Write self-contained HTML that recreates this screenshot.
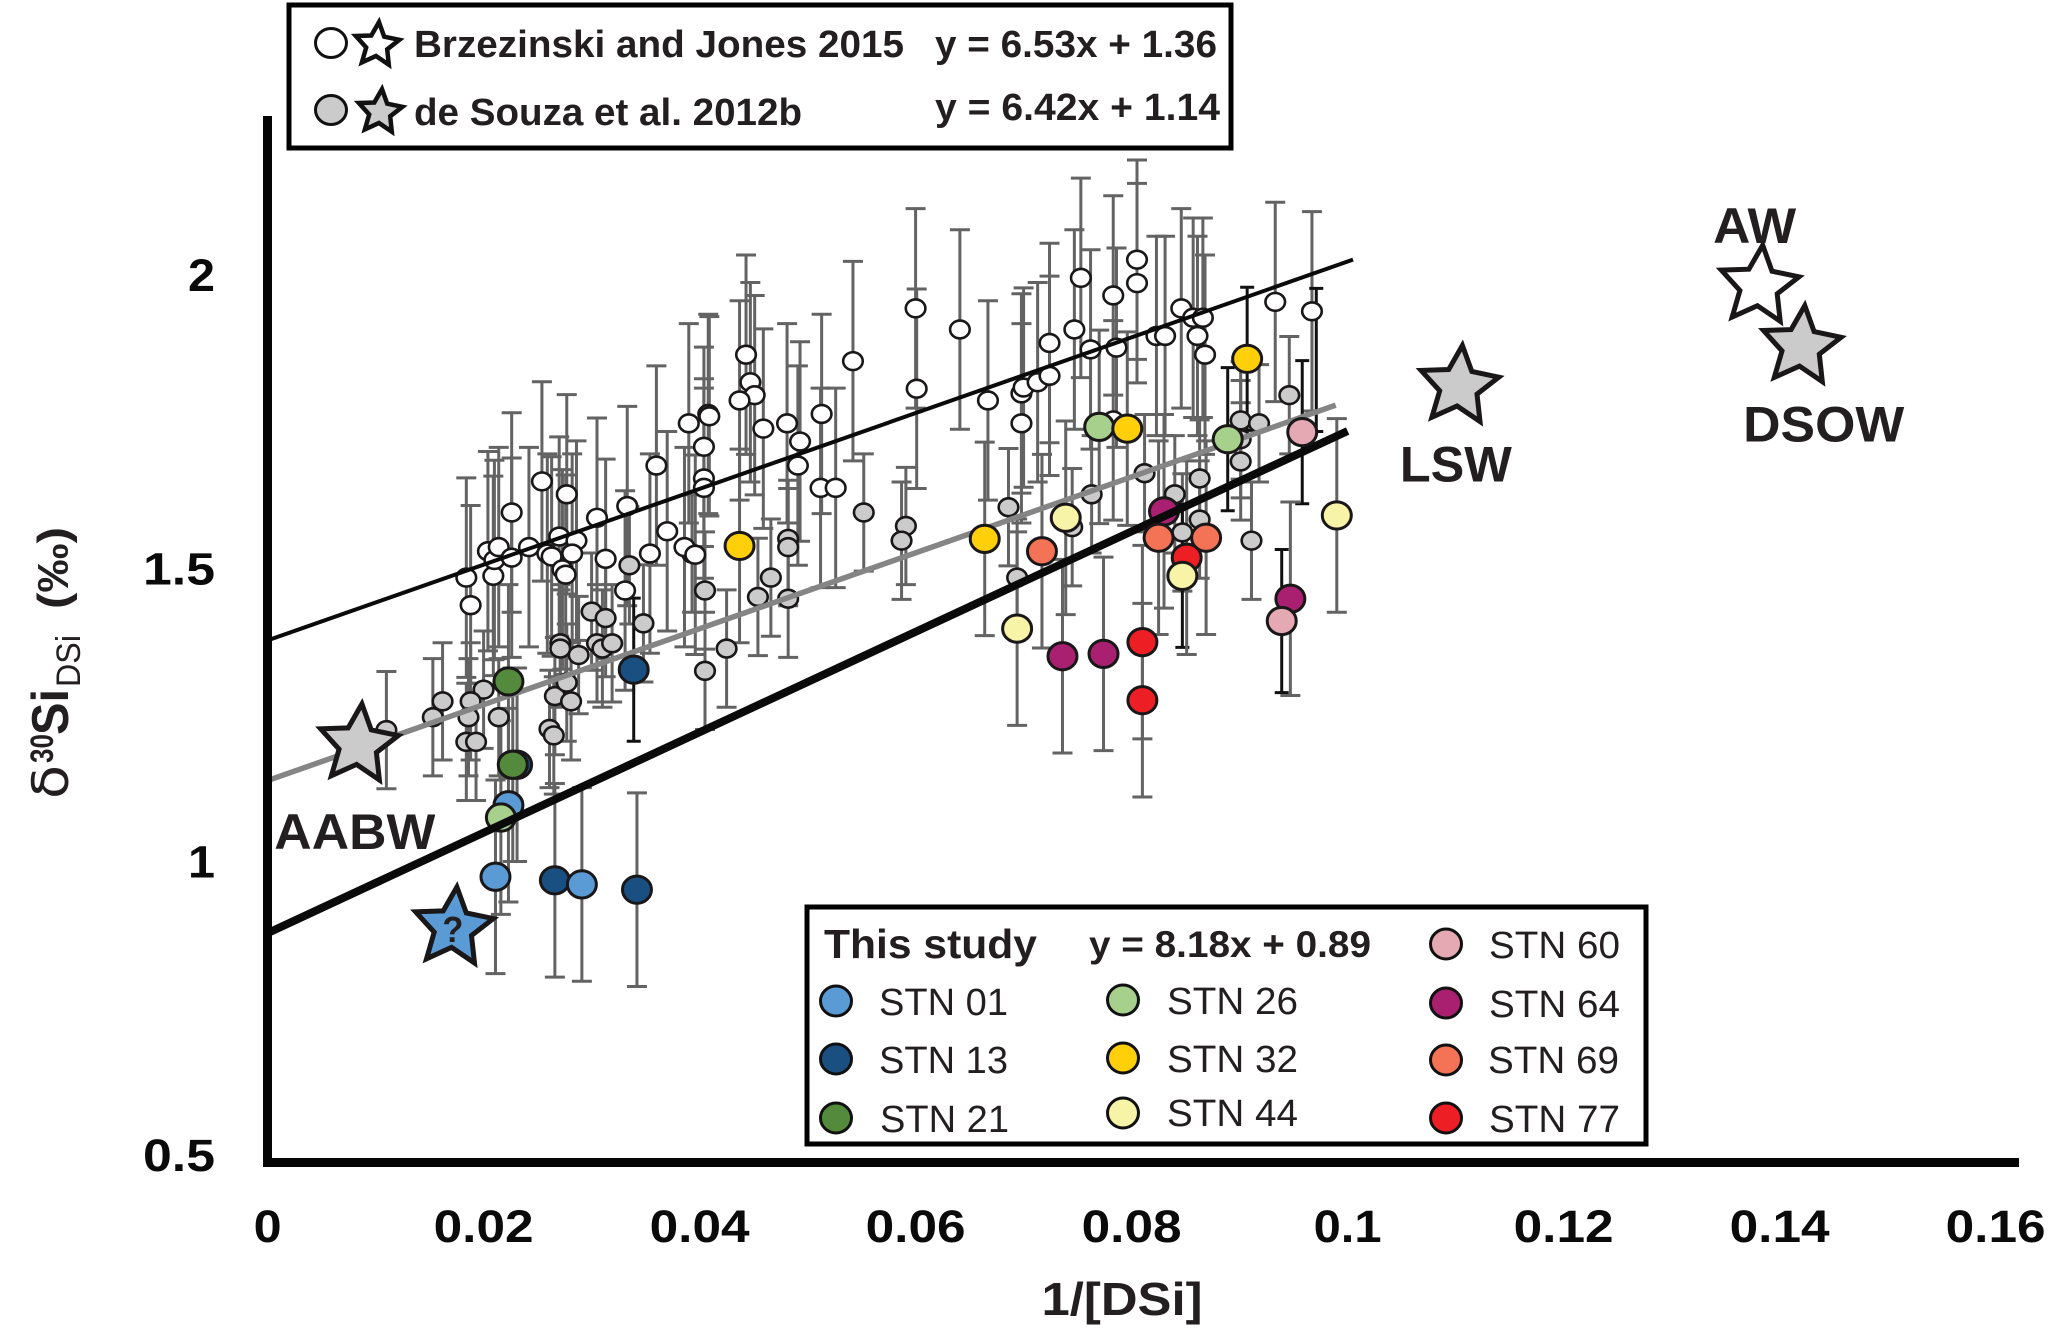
<!DOCTYPE html>
<html lang="en">
<head>
<meta charset="utf-8">
<title>Silicon isotope chart</title>
<style>
html,body{margin:0;padding:0;background:#fff}
svg{display:block}
text{font-family:"Liberation Sans",Arial,sans-serif;fill:#231f20}
.b{font-weight:bold}
</style>
</head>
<body>
<svg id="chart" xmlns="http://www.w3.org/2000/svg" width="2067" height="1341" viewBox="0 0 2067 1341">
  <rect width="2067" height="1341" fill="#fff"/>
  <g id="bars"></g>
  <g id="marks"></g>
  <g id="axes"></g>

  <g transform="translate(68,799) rotate(-90)">
    <text x="0" y="0" font-size="50" textLength="34" lengthAdjust="spacingAndGlyphs" style="font-family:'DejaVu Sans',sans-serif">δ</text>
    <text x="36" y="-15" font-size="32" class="b" textLength="29" lengthAdjust="spacingAndGlyphs">30</text>
    <text x="64" y="0" font-size="52" class="b" textLength="46" lengthAdjust="spacingAndGlyphs">Si</text>
    <text x="112" y="12" font-size="34" textLength="52" lengthAdjust="spacingAndGlyphs">DSi</text>
    <text x="190" y="0" font-size="44" class="b" textLength="82" lengthAdjust="spacingAndGlyphs">(‰)</text>
  </g>
  <text x="1122" y="1315" font-size="46" class="b" text-anchor="middle" textLength="161" lengthAdjust="spacingAndGlyphs">1/[DSi]</text>

  <g>
    <rect x="289" y="5" width="942" height="143" fill="#fff" stroke="#000" stroke-width="5"/>
    <ellipse cx="331" cy="43" rx="15.5" ry="14.5" fill="#fff" stroke="#111" stroke-width="3"/>
    <ellipse cx="331" cy="110" rx="15.5" ry="14.5" fill="#cccbcc" stroke="#111" stroke-width="3"/>
    <polygon id="legStarW" fill="#fff" stroke="#111" stroke-width="4.5"/>
    <polygon id="legStarG" fill="#cccbcc" stroke="#111" stroke-width="4.5"/>
    <text x="414" y="57" font-size="38" class="b" textLength="490" lengthAdjust="spacingAndGlyphs">Brzezinski and Jones 2015</text>
    <text x="935" y="57" font-size="38" class="b" textLength="282" lengthAdjust="spacingAndGlyphs">y = 6.53x + 1.36</text>
    <text x="414" y="125" font-size="38" class="b" textLength="388" lengthAdjust="spacingAndGlyphs">de Souza et al. 2012b</text>
    <text x="935" y="120" font-size="38" class="b" textLength="285" lengthAdjust="spacingAndGlyphs">y = 6.42x + 1.14</text>
  </g>

  <g>
    <rect x="807" y="907" width="839" height="237" fill="#fff" stroke="#000" stroke-width="5"/>
    <text x="824" y="958" font-size="41" class="b" textLength="213" lengthAdjust="spacingAndGlyphs">This study</text>
    <text x="1089" y="957" font-size="37" class="b" textLength="282" lengthAdjust="spacingAndGlyphs">y = 8.18x + 0.89</text>
    <ellipse cx="836" cy="1001" rx="15.5" ry="15" fill="#5b9bd5" stroke="#111" stroke-width="3"/>
    <text x="879" y="1015" font-size="38" textLength="129" lengthAdjust="spacingAndGlyphs">STN 01</text>
    <ellipse cx="836" cy="1059" rx="15.5" ry="15" fill="#1a5081" stroke="#111" stroke-width="3"/>
    <text x="879" y="1073" font-size="38" textLength="129" lengthAdjust="spacingAndGlyphs">STN 13</text>
    <ellipse cx="836" cy="1118" rx="15.5" ry="15" fill="#548a3c" stroke="#111" stroke-width="3"/>
    <text x="880" y="1132" font-size="38" textLength="129" lengthAdjust="spacingAndGlyphs">STN 21</text>
    <ellipse cx="1123" cy="1000" rx="15.5" ry="15" fill="#a8d08d" stroke="#111" stroke-width="3"/>
    <text x="1167" y="1014" font-size="38" textLength="131" lengthAdjust="spacingAndGlyphs">STN 26</text>
    <ellipse cx="1123" cy="1058" rx="15.5" ry="15" fill="#ffd00a" stroke="#111" stroke-width="3"/>
    <text x="1167" y="1072" font-size="38" textLength="131" lengthAdjust="spacingAndGlyphs">STN 32</text>
    <ellipse cx="1123" cy="1113" rx="15.5" ry="15" fill="#f7f4a8" stroke="#111" stroke-width="3"/>
    <text x="1167" y="1126" font-size="38" textLength="131" lengthAdjust="spacingAndGlyphs">STN 44</text>
    <ellipse cx="1446" cy="944" rx="15.5" ry="15" fill="#e4a9b2" stroke="#111" stroke-width="3"/>
    <text x="1489" y="958" font-size="38" textLength="131" lengthAdjust="spacingAndGlyphs">STN 60</text>
    <ellipse cx="1446" cy="1003" rx="15.5" ry="15" fill="#a8206f" stroke="#111" stroke-width="3"/>
    <text x="1489" y="1017" font-size="38" textLength="131" lengthAdjust="spacingAndGlyphs">STN 64</text>
    <ellipse cx="1446" cy="1060" rx="15.5" ry="15" fill="#f47356" stroke="#111" stroke-width="3"/>
    <text x="1488" y="1073" font-size="38" textLength="131" lengthAdjust="spacingAndGlyphs">STN 69</text>
    <ellipse cx="1446" cy="1118" rx="15.5" ry="15" fill="#ed1f24" stroke="#111" stroke-width="3"/>
    <text x="1489" y="1132" font-size="38" textLength="131" lengthAdjust="spacingAndGlyphs">STN 77</text>
  </g>
</svg>
<script>
const xTickValues = [0, 0.02, 0.04, 0.06, 0.08, 0.1, 0.12, 0.14, 0.16];
const xTickLabels = ["0", "0.02", "0.04", "0.06", "0.08", "0.1", "0.12", "0.14", "0.16"];
const yTickValues = [0.5, 1, 1.5, 2];
const yTickLabels = ["0.5", "1", "1.5", "2"];

const whiteX = [.0184,.0188,.0204,.0209,.0210,.0214,.0226,.0226,.0242,.0254,.0259,.0263,.0270,.0277,.0273,.0276,.0286,.0282,.0305,.0313,.0333,.0331,.0354,.0360,.0370,.0386,.0390,.0396,.0404,.0404,.0408,.0409,.0404,.0443,.0447,.0451,.0437,.0459,.0481,.0493,.0491,.0513,.0512,.0526,.0542,.0600,.0601,.0641,.0667,.0698,.0698,.0700,.0713,.0724,.0724,.0747,.0753,.0762,.0783,.0786,.0783,.0805,.0805,.0823,.0831,.0846,.0857,.0866,.0861,.0868,.0933,.0967];
const whiteY = [1.486,1.439,1.531,1.489,1.516,1.538,1.597,1.52,1.538,1.65,1.527,1.522,1.556,1.628,1.50,1.491,1.549,1.527,1.588,1.518,1.608,1.464,1.527,1.677,1.565,1.538,1.749,1.525,1.655,1.709,1.765,1.761,1.639,1.866,1.819,1.797,1.788,1.74,1.749,1.718,1.677,1.765,1.639,1.639,1.855,1.945,1.808,1.909,1.788,1.749,1.80,1.81,1.819,1.83,1.886,1.909,1.997,1.875,1.967,1.878,1.754,2.028,1.988,1.898,1.898,1.945,1.929,1.929,1.898,1.866,1.956,1.94];
const whiteErr = 0.17;

const grayX = [.0110,.0162,.0153,.0200,.0188,.0186,.0184,.0193,.0214,.0271,.0271,.0288,.0305,.0310,.0319,.0300,.0313,.0348,.0266,.0277,.0281,.0261,.0265,.0425,.0405,.0405,.0454,.0466,.0482,.0482,.0482,.0335,.0393,.0552,.0591,.0587,.0686,.0694,.0763,.0745,.0812,.0840,.0863,.0863,.0847,.0901,.0918,.0901,.0901,.0946,.0911];
const grayY = [1.226,1.275,1.248,1.295,1.275,1.248,1.206,1.206,1.248,1.374,1.365,1.354,1.374,1.365,1.374,1.428,1.417,1.408,1.284,1.307,1.275,1.228,1.217,1.365,1.327,1.464,1.453,1.486,1.45,1.552,1.538,1.507,1.527,1.597,1.574,1.549,1.606,1.486,1.628,1.572,1.664,1.628,1.655,1.585,1.563,1.754,1.749,1.684,1.722,1.797,1.549];
const grayErr = 0.1;

const stationNames = ["stn-01","stn-13","stn-21","stn-26","stn-32","stn-44","stn-60","stn-64","stn-69","stn-77"];
const stn01X = [.0211,.0223,.0291];
const stn01Y = [.976,1.098,.963];
const stn01Err = [.165,.165,.165];
const stn13X = [.0266,.0342,.0339,.0231];
const stn13Y = [.970,.954,1.329,1.167];
const stn13Err = [.165,.165,.122,.165];
const stn21X = [.0223,.0227];
const stn21Y = [1.309,1.167];
const stn21Err = [.165,.165];
const stn26X = [.0216,.0770,.0889];
const stn26Y = [1.077,1.743,1.722];
const stn26Err = [.165,.165,.122];
const stn32X = [.0437,.0664,.0796,.0907];
const stn32Y = [1.540,1.552,1.740,1.859];
const stn32Err = [.165,.165,.165,.122];
const stn44X = [.0694,.0739,.0847,.0990];
const stn44Y = [1.399,1.588,1.489,1.592];
const stn44Err = [.165,.165,.122,.165];
const stn60X = [.0939,.0958];
const stn60Y = [1.412,1.734];
const stn60Err = [.122,.122];
const stn64X = [.0736,.0774,.0830,.0947];
const stn64Y = [1.352,1.356,1.599,1.450];
const stn64Err = [.165,.165,.165,.165];
const stn69X = [.0717,.0825,.0869];
const stn69Y = [1.531,1.554,1.554];
const stn69Err = [.165,.165,.165];
const stn77X = [.0810,.0810,.0851];
const stn77Y = [1.376,1.277,1.520];
const stn77Err = [.165,.165,.165];
const hiddenBarX = [.0971];
const hiddenBarY = [1.857];
const hiddenBarErr = [.122];

const fitLineX0 = [0, 0, 0];
const fitLineY0 = [1.379, 1.14, 0.88];
const fitLineX1 = [.1005, .0989, .1];
const fitLineY1 = [2.028, 1.78, 1.736];

const waterMassNames = ["AABW", "?", "LSW", "AW", "DSOW"];
const waterMassX = [.0084, .0172, .1103, .1381, .1420];
const waterMassY = [1.201, .889, 1.812, 1.983, 1.880];

const SVGNS = "http://www.w3.org/2000/svg";
const X = v => 267.6 + v * 10800;
const Y = v => 1156 - (v - 0.5) * 586.6;
const barsG = document.getElementById("bars");
const marksG = document.getElementById("marks");
const axesG = document.getElementById("axes");

function mk(tag, attrs, parent) {
  const el = document.createElementNS(SVGNS, tag);
  for (const k in attrs) el.setAttribute(k, attrs[k]);
  parent.appendChild(el);
  return el;
}

function drawBar(vx, vy, err, color, width, capW) {
  const cx = X(vx), top = Y(vy + err), bot = Y(vy - err);
  const g = mk("path", {
    d: "M" + cx + " " + top + "V" + bot + "M" + (cx - capW) + " " + top + "H" + (cx + capW) + "M" + (cx - capW) + " " + bot + "H" + (cx + capW),
    fill: "none", stroke: color, "stroke-width": width
  }, barsG);
  
  
}

function drawDot(vx, vy, rx, ry, fill, sw) {
  const c = mk("ellipse", {
    cx: X(vx), cy: Y(vy), rx: rx, ry: ry, fill: fill, stroke: "#1a1718", "stroke-width": sw
  }, marksG);
  
  
}

function drawFit(i, color, width) {
  const l = mk("line", {
    x1: X(fitLineX0[i]), y1: Y(fitLineY0[i]), x2: X(fitLineX1[i]), y2: Y(fitLineY1[i]),
    stroke: color, "stroke-width": width
  }, marksG);
  
  
}

function starPoints(cx, cy, R, rot) {
  const pts = [];
  for (let i = 0; i < 10; i++) {
    const r = i % 2 ? R * 0.48 : R;
    const a = (-90 + rot + i * 36) * Math.PI / 180;
    pts.push((cx + r * Math.cos(a)).toFixed(1) + "," + (cy + r * Math.sin(a)).toFixed(1));
  }
  return pts.join(" ");
}

function drawStation(xs, ys, errs, fill) {
  xs.forEach((vx, i) => drawDot(vx, ys[i], 14.5, 13.6, fill, 3));
}

function drawStationBars(xs, ys, errs) {
  xs.forEach((vx, i) => {
    const dark = errs[i] < 0.13;
    drawBar(vx, ys[i], errs[i], dark ? "#111" : "#636363", 3, dark ? 7 : 10);
  });
}

grayX.forEach((vx, i) => drawBar(vx, grayY[i], grayErr, "#636363", 3, 10));
whiteX.forEach((vx, i) => drawBar(vx, whiteY[i], whiteErr, "#636363", 3, 10));
drawStationBars(stn01X, stn01Y, stn01Err);
drawStationBars(stn13X, stn13Y, stn13Err);
drawStationBars(stn21X, stn21Y, stn21Err);
drawStationBars(stn26X, stn26Y, stn26Err);
drawStationBars(stn32X, stn32Y, stn32Err);
drawStationBars(stn44X, stn44Y, stn44Err);
drawStationBars(stn60X, stn60Y, stn60Err);
drawStationBars(stn64X, stn64Y, stn64Err);
drawStationBars(stn69X, stn69Y, stn69Err);
drawStationBars(stn77X, stn77Y, stn77Err);
drawStationBars(hiddenBarX, hiddenBarY, hiddenBarErr);

grayX.forEach((vx, i) => drawDot(vx, grayY[i], 9.8, 8.9, "#cccbcc", 2.6));
whiteX.forEach((vx, i) => drawDot(vx, whiteY[i], 9.8, 8.9, "#fff", 2.6));
drawFit(0, "#0a0a0a", 4);
drawFit(1, "#858585", 5.5);
drawStation(stn13X, stn13Y, stn13Err, "#1a5081");
drawStation(stn01X, stn01Y, stn01Err, "#5b9bd5");
drawStation(stn26X, stn26Y, stn26Err, "#a8d08d");
drawStation(stn64X, stn64Y, stn64Err, "#a8206f");
drawFit(2, "#0a0a0a", 8);
drawStation(stn21X, stn21Y, stn21Err, "#548a3c");
drawStation(stn32X, stn32Y, stn32Err, "#ffd00a");
drawStation(stn60X, stn60Y, stn60Err, "#e4a9b2");
drawStation(stn69X, stn69Y, stn69Err, "#f47356");
drawStation(stn77X, stn77Y, stn77Err, "#ed1f24");
drawStation(stn44X, stn44Y, stn44Err, "#f7f4a8");

function drawStar(i, fill) {
  const s = mk("polygon", {
    points: starPoints(X(waterMassX[i]), Y(waterMassY[i]), 41, 5),
    fill: fill, stroke: "#1a1718", "stroke-width": 5, "stroke-linejoin": "miter"
  }, marksG);
  
  
}
drawStar(0, "#cccbcc");
drawStar(1, "#5b9bd5");
drawStar(2, "#cccbcc");
drawStar(3, "#fff");
drawStar(4, "#cccbcc");

function drawMassLabel(i, dx, dy, size, w) {
  const t = mk("text", {
    x: X(waterMassX[i]) + dx, y: Y(waterMassY[i]) + dy, "font-size": size, "class": "b",
    textLength: w, lengthAdjust: "spacingAndGlyphs"
  }, marksG);
  t.textContent = waterMassNames[i];
  
  
}
drawMassLabel(0, -84, 104, 50, 161);
drawMassLabel(1, -11, 14, 36, 21);
drawMassLabel(2, -59, 95, 50, 112);
drawMassLabel(3, -46, -43, 50, 83);
drawMassLabel(4, -58, 95, 50, 161);

const yAxis = mk("line", { x1: 267.5, y1: 116, x2: 267.5, y2: 1167, stroke: "#050505", "stroke-width": 9 }, axesG);


const xAxis = mk("line", { x1: 263, y1: 1162.5, x2: 2019, y2: 1162.5, stroke: "#050505", "stroke-width": 9 }, axesG);



xTickValues.forEach((v, i) => {
  const lab = xTickLabels[i];
  const t = mk("text", {
    x: X(v), y: 1242, "font-size": 45, "text-anchor": "middle", "class": "b",
    textLength: lab.length === 4 ? 100 : (lab.length === 3 ? 68 : 28), lengthAdjust: "spacingAndGlyphs"
  }, axesG);
  t.textContent = lab;
  t.style.fill = "#0a0a0a";
  
  
});
yTickValues.forEach((v, i) => {
  const lab = yTickLabels[i];
  const t = mk("text", {
    x: 215, y: Y(v) + 15, "font-size": 45, "text-anchor": "end", "class": "b",
    textLength: lab.length === 3 ? 72 : 27, lengthAdjust: "spacingAndGlyphs"
  }, axesG);
  t.textContent = lab;
  t.style.fill = "#0a0a0a";
  
  
});

document.getElementById("legStarW").setAttribute("points", starPoints(377, 45, 23, 5));
document.getElementById("legStarG").setAttribute("points", starPoints(380, 112, 23, 5));
</script>
</body>
</html>
